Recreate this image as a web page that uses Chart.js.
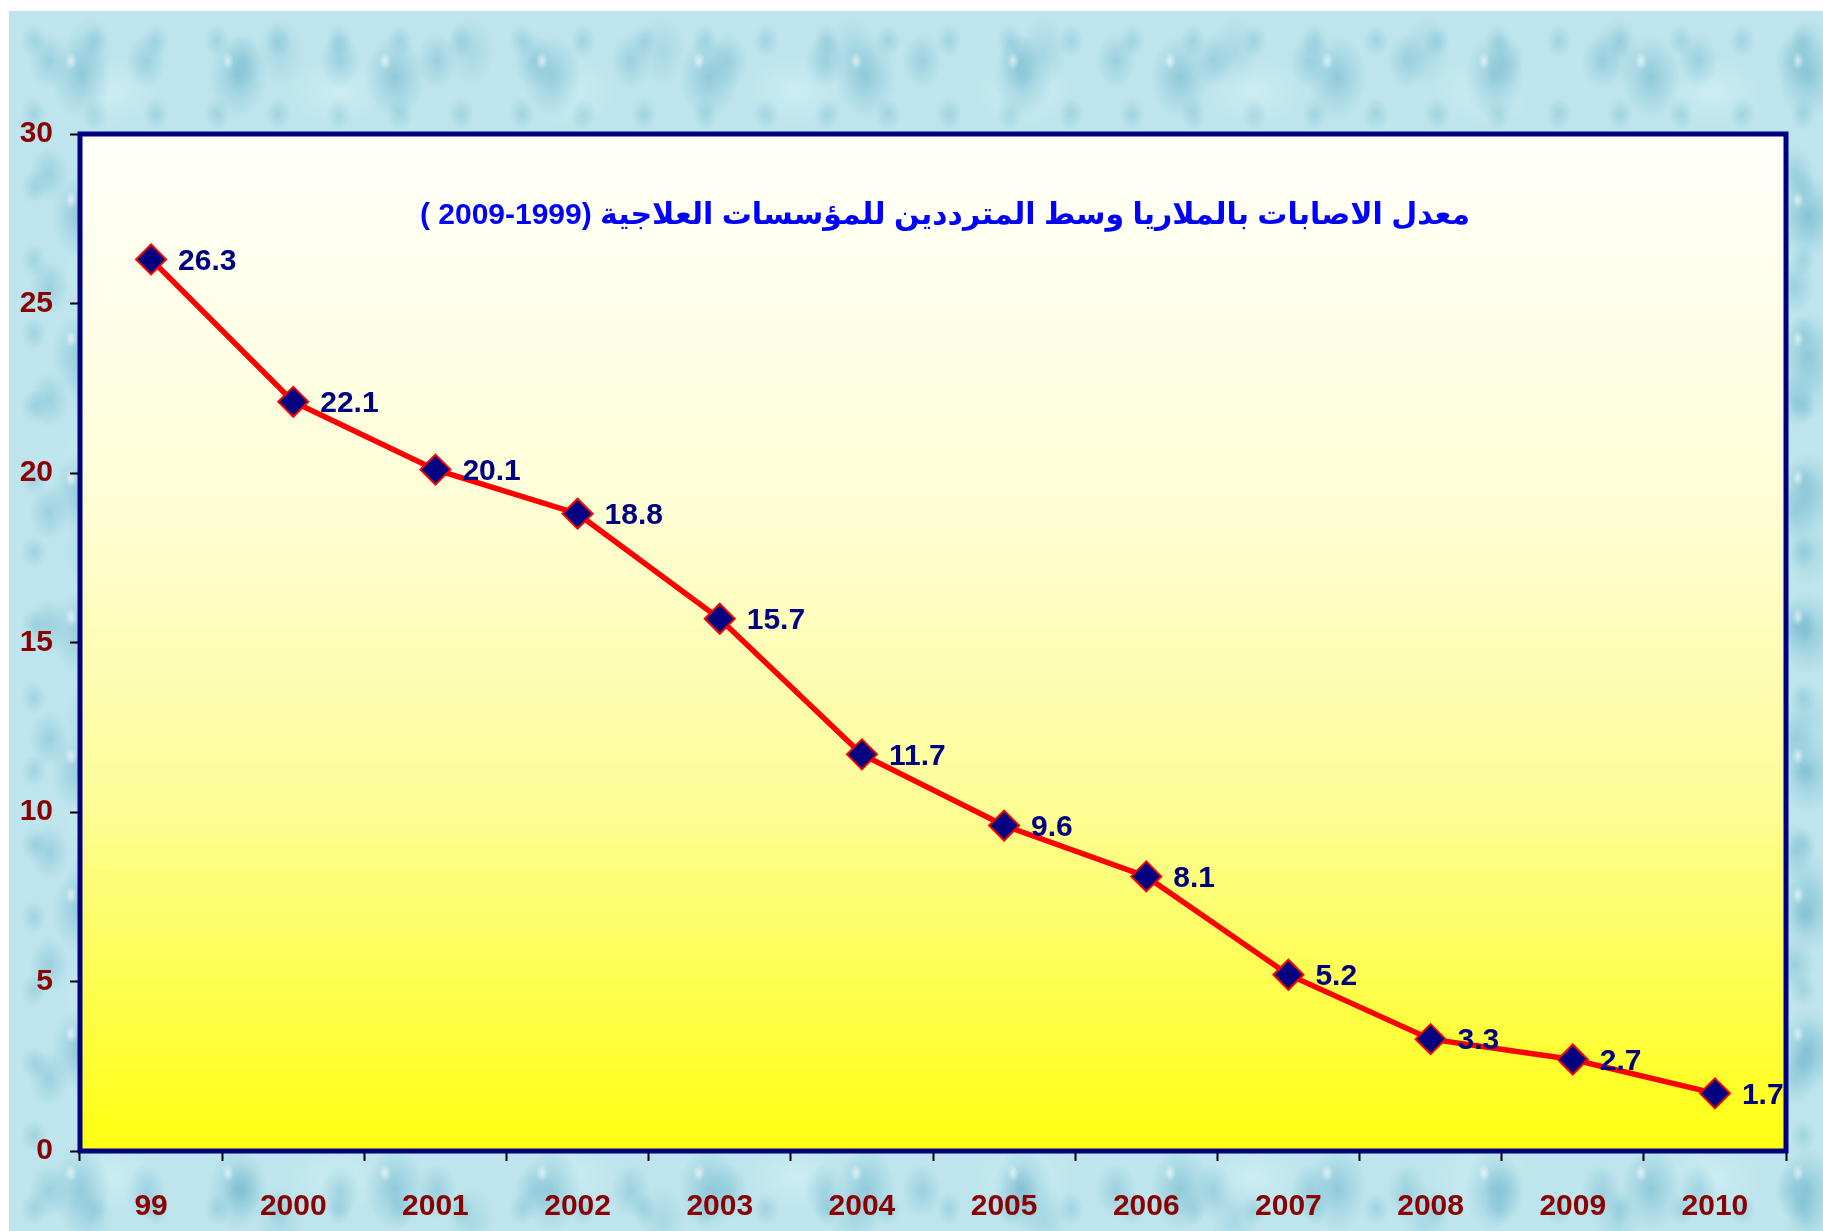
<!DOCTYPE html>
<html>
<head>
<meta charset="utf-8">
<script src="https://cdn.jsdelivr.net/npm/chart.js@4.4.1/dist/chart.umd.min.js"></script>
<style>
  html, body { margin: 0; padding: 0; background: #fff; }
  #wrap { position: relative; width: 1823px; height: 1231px; overflow: hidden; }
  #bg {
    position: absolute; left: 9px; top: 11px; right: 0; bottom: 0;
    background-color: #bee5ed;
    background-image:
      radial-gradient(ellipse 6px 9px at 62px 50px, rgba(255,255,255,0.6), transparent 100%),
      radial-gradient(ellipse 30px 42px at 72px 66px, rgba(90,168,194,0.45) 0, rgba(140,200,216,0.3) 65%, transparent 100%),
      radial-gradient(ellipse 20px 28px at 40px 50px, rgba(98,174,198,0.38) 0, transparent 100%),
      radial-gradient(ellipse 48px 34px at 100px 80px, rgba(218,244,248,0.5) 0, transparent 100%),
      radial-gradient(ellipse 13px 17px at 25px 30px, rgba(105,178,200,0.35) 0, transparent 100%),
      radial-gradient(ellipse 24px 36px at 80px 40px, rgba(118,186,207,0.3) 0, transparent 100%);
    background-size: 157px 139px, 157px 139px, 97px 113px, 229px 181px, 61px 73px, 191px 167px;
  }
  #box { position: absolute; left: 0; top: 0; width: 1823px; height: 1231px; }
</style>
</head>
<body>
<div id="wrap">
  <div id="bg"></div>
  <div id="box"><canvas id="chart"></canvas></div>
</div>
<script>
const years = ["99", "2000", "2001", "2002", "2003", "2004", "2005", "2006", "2007", "2008", "2009", "2010"];
const rates = [26.3, 22.1, 20.1, 18.8, 15.7, 11.7, 9.6, 8.1, 5.2, 3.3, 2.7, 1.7];
const yMin = 0;
const yMax = 30;
const yStep = 5;
const titleText = "معدل الاصابات بالملاريا وسط المترددين للمؤسسات العلاجية (1999-2009 )";

const FONT = "'Liberation Sans', Arial, 'DejaVu Sans', sans-serif";

// yellow gradient behind the plot + navy frame
const plotBg = {
  id: "plotBg",
  beforeDatasetsDraw(chart) {
    const { ctx, chartArea: a } = chart;
    const g = ctx.createLinearGradient(0, a.top, 0, a.bottom);
    g.addColorStop(0, "#fffffa");
    g.addColorStop(0.35, "#fefed8");
    g.addColorStop(0.65, "#fdfd9a");
    g.addColorStop(1, "#ffff10");
    ctx.save();
    ctx.fillStyle = g;
    ctx.fillRect(a.left, a.top, a.right - a.left, a.bottom - a.top);
    ctx.lineWidth = 5;
    ctx.strokeStyle = "#000080";
    ctx.strokeRect(a.left, a.top, a.right - a.left, a.bottom - a.top);
    ctx.restore();
  }
};

// value labels to the right of each point
const valueLabels = {
  id: "valueLabels",
  afterDatasetsDraw(chart) {
    const ctx = chart.ctx;
    const meta = chart.getDatasetMeta(0);
    ctx.save();
    ctx.font = "bold 30px " + FONT;
    ctx.fillStyle = "#000080";
    ctx.textAlign = "left";
    ctx.textBaseline = "middle";
    meta.data.forEach((pt, i) => {
      ctx.fillText(String(rates[i]), pt.x + 27, pt.y + 2);
    });
    ctx.restore();
  }
};

// title sits inside the plot area
const innerTitle = {
  id: "innerTitle",
  afterDraw(chart) {
    const { ctx, chartArea: a } = chart;
    ctx.save();
    ctx.font = "bold 30px " + FONT;
    ctx.fillStyle = "#0000ff";
    ctx.direction = "rtl";
    ctx.textAlign = "center";
    ctx.textBaseline = "middle";
    ctx.fillText(titleText, (a.left + a.right) / 2 + 12, a.top + 82);
    ctx.restore();
  }
};

new Chart(document.getElementById("chart"), {
  type: "line",
  data: {
    labels: years,
    datasets: [{
      data: rates,
      borderColor: "#ff0000",
      borderWidth: 5.5,
      tension: 0,
      pointStyle: "rectRot",
      pointRadius: 15,
      pointHoverRadius: 15,
      pointBackgroundColor: "#000080",
      pointBorderColor: "#ff0000",
      pointBorderWidth: 2
    }]
  },
  options: {
    responsive: true,
    maintainAspectRatio: false,
    animation: false,
    layout: { padding: { top: 134, right: 37, left: 0, bottom: 0 } },
    plugins: { legend: { display: false }, tooltip: { enabled: false } },
    scales: {
      x: {
        type: "category",
        offset: true,
        afterFit(s) { s.height = 80; },
        grid: { offset: true, drawOnChartArea: false, tickLength: 10, tickColor: "#000", tickWidth: 2 },
        border: { display: false },
        ticks: {
          color: "#8b0000",
          font: { family: FONT, size: 30, weight: "bold" },
          padding: 28,
          maxRotation: 0,
          autoSkip: false
        }
      },
      y: {
        min: yMin,
        max: yMax,
        afterFit(s) { s.width = 80; },
        grid: { drawOnChartArea: false, tickLength: 10, tickColor: "#000", tickWidth: 2 },
        border: { display: false },
        ticks: {
          stepSize: yStep,
          color: "#8b0000",
          font: { family: FONT, size: 30, weight: "bold" },
          padding: 17
        }
      }
    }
  },
  plugins: [plotBg, valueLabels, innerTitle]
});
</script>
</body>
</html>
